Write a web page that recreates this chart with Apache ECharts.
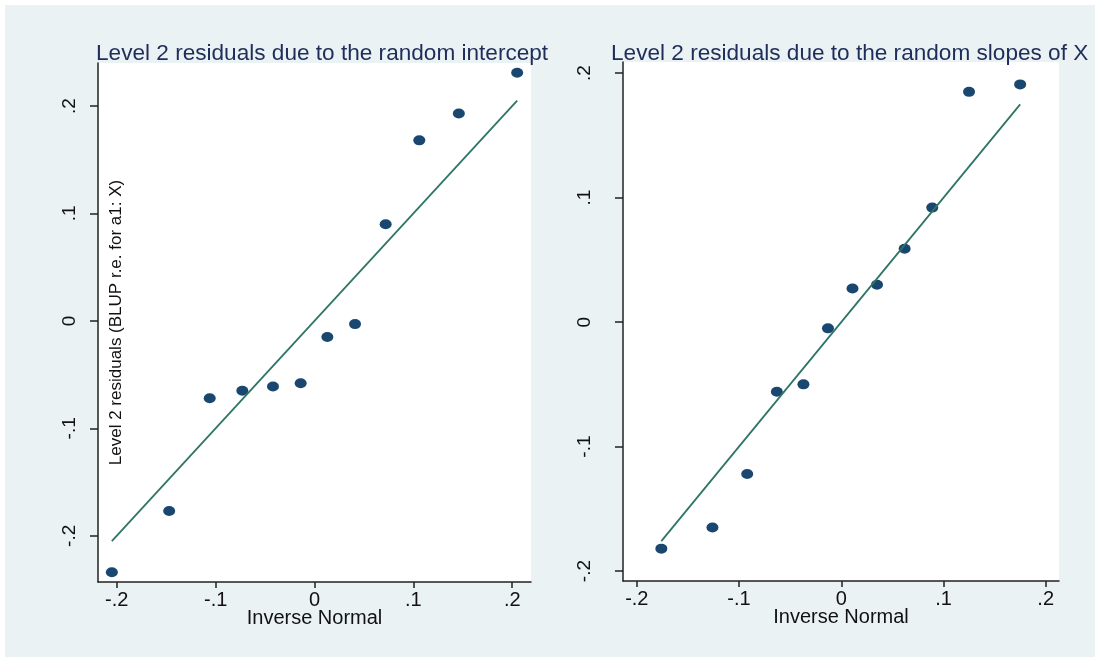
<!DOCTYPE html>
<html>
<head>
<meta charset="utf-8">
<script src="https://cdn.jsdelivr.net/npm/echarts@6/dist/echarts.min.js"></script>
<style>
  html, body { margin: 0; padding: 0; background: #fff; }
  #main { position: absolute; left: 5px; top: 5px; width: 1090px; height: 652px; }
</style>
</head>
<body>
<div id="main"></div>
<script>
// left panel: random intercept residuals against inverse normal
var interceptNormal = [-0.205, -0.147, -0.106, -0.073, -0.042, -0.014, 0.013, 0.041, 0.072, 0.106, 0.146, 0.205];
var interceptResid  = [-0.234, -0.177, -0.072, -0.065, -0.061, -0.058, -0.015, -0.003, 0.090, 0.168, 0.193, 0.231];
// right panel: random slope residuals
var slopeNormal = [-0.176, -0.126, -0.092, -0.063, -0.037, -0.013, 0.011, 0.035, 0.062, 0.089, 0.125, 0.175];
var slopeResid  = [-0.182, -0.165, -0.122, -0.056, -0.050, -0.005, 0.027, 0.030, 0.059, 0.092, 0.185, 0.191];
// reference line (y = x) ends
var interceptLine = [-0.205, 0.205];
var slopeLine = [-0.176, 0.175];
var tickValues = [-0.2, -0.1, 0, 0.1, 0.2];
var tickLabels = ['-.2', '-.1', '0', '.1', '.2'];

var FONT = 'Liberation Sans, Arial, sans-serif';
var AXIS_COLOR = '#222';

function fmt(v) {
  for (var i = 0; i < tickValues.length; i++) {
    if (Math.abs(v - tickValues[i]) < 1e-9) return tickLabels[i];
  }
  return '';
}

function pairs(xs, ys) {
  return xs.map(function (x, i) { return [x, ys[i]]; });
}

function xAxis(gi, min, max) {
  return {
    type: 'value', gridIndex: gi, min: min, max: max,
    name: 'Inverse Normal', nameLocation: 'middle', nameGap: 26, nameMoveOverlap: false,
    nameTextStyle: { fontSize: 20, color: '#111', fontFamily: FONT },
    axisLine: { show: true, onZero: false, lineStyle: { color: AXIS_COLOR, width: 1.5 } },
    axisTick: { show: true, length: 6, customValues: tickValues, lineStyle: { color: AXIS_COLOR, width: 1.5 } },
    axisLabel: { customValues: tickValues, formatter: fmt, fontSize: 20, color: '#111', fontFamily: FONT, margin: 8 },
    splitLine: { show: false }
  };
}

function yAxis(gi, min, max, margin, name) {
  return {
    type: 'value', gridIndex: gi, min: min, max: max,
    name: name || '', nameLocation: 'middle', nameRotate: 90, nameGap: -27,
    nameTextStyle: { fontSize: 17, color: '#111', fontFamily: FONT },
    axisLine: { show: true, onZero: false, lineStyle: { color: AXIS_COLOR, width: 1.5 } },
    axisTick: { show: true, length: 8, customValues: tickValues, lineStyle: { color: AXIS_COLOR, width: 1.5 } },
    axisLabel: { customValues: tickValues, formatter: fmt, rotate: 90, fontSize: 19, color: '#111', fontFamily: FONT, margin: margin },
    splitLine: { show: false }
  };
}

function titleAt(text, left) {
  return {
    text: text, left: left, top: 37, padding: 0,
    textStyle: { fontSize: 22.6, fontWeight: 'normal', color: '#1e2d5a', fontFamily: FONT }
  };
}

var chart = echarts.init(document.getElementById('main'));
chart.setOption({
  animation: false,
  backgroundColor: '#eaf2f3',
  title: [
    titleAt('Level 2 residuals due to the random intercept', 91),
    titleAt('Level 2 residuals due to the random slopes of X', 606)
  ],
  grid: [
    { left: 93, top: 58, width: 433, height: 519, show: true, backgroundColor: '#fff', borderWidth: 0 },
    { left: 618, top: 57, width: 436, height: 519, show: true, backgroundColor: '#fff', borderWidth: 0 }
  ],
  xAxis: [xAxis(0, -0.219, 0.219), xAxis(1, -0.2135, 0.213)],
  yAxis: [
    yAxis(0, -0.243, 0.24, 19, 'Level 2 residuals (BLUP r.e. for a1: X)'),
    yAxis(1, -0.208, 0.209, 29)
  ],
  series: [
    {
      type: 'scatter', xAxisIndex: 0, yAxisIndex: 0,
      data: pairs(interceptNormal, interceptResid),
      symbol: 'circle', symbolSize: [12, 10],
      itemStyle: { color: '#1a476f', opacity: 1 }
    },
    {
      type: 'line', xAxisIndex: 0, yAxisIndex: 0,
      data: pairs(interceptLine, interceptLine),
      showSymbol: false, silent: true,
      lineStyle: { color: '#2e7566', width: 1.8 }
    },
    {
      type: 'scatter', xAxisIndex: 1, yAxisIndex: 1,
      data: pairs(slopeNormal, slopeResid),
      symbol: 'circle', symbolSize: [12, 10],
      itemStyle: { color: '#1a476f', opacity: 1 }
    },
    {
      type: 'line', xAxisIndex: 1, yAxisIndex: 1,
      data: pairs(slopeLine, slopeLine),
      showSymbol: false, silent: true,
      lineStyle: { color: '#2e7566', width: 1.8 }
    }
  ]
});
</script>
</body>
</html>
